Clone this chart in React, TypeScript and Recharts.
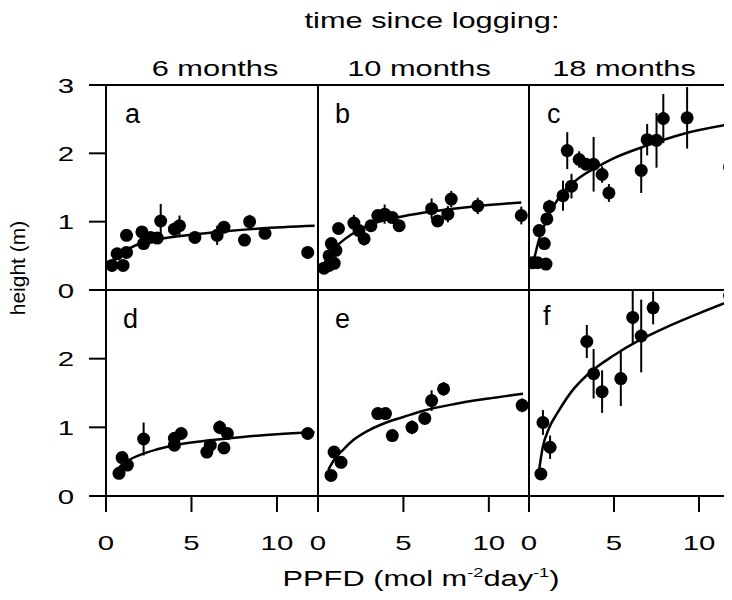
import React from "react";
import { ComposedChart, Scatter, Line, XAxis, YAxis, ErrorBar, ReferenceArea } from "recharts";

const columnTitles = ["6 months", "10 months", "18 months"];
const panelLetters = ["a", "b", "c", "d", "e", "f"];
const xTicks = [0, 5, 10];
const yTicksTop = [0, 1, 2, 3];
const yTicksBottom = [0, 1, 2];

// [PPFD, height, error]
const pointsA = [
  [0.35, 0.36, 0], [1.0, 0.36, 0], [0.65, 0.53, 0], [1.2, 0.55, 0], [1.2, 0.8, 0.05],
  [2.1, 0.85, 0.06], [2.2, 0.68, 0.06], [2.6, 0.77, 0.04], [3.0, 0.76, 0.04], [3.2, 1.01, 0.25],
  [4.0, 0.89, 0.1], [4.3, 0.94, 0.15], [5.2, 0.77, 0.03], [6.5, 0.8, 0.14], [6.9, 0.92, 0.08],
  [8.1, 0.73, 0.08], [8.4, 1.0, 0.1], [9.3, 0.83, 0.08], [11.8, 0.55, 0.08],
];
const pointsB = [
  [0.35, 0.32, 0], [0.65, 0.36, 0], [0.95, 0.39, 0], [0.65, 0.5, 0], [0.78, 0.68, 0],
  [1.05, 0.58, 0], [1.2, 0.9, 0], [2.1, 0.98, 0.12], [2.4, 0.87, 0.05], [2.7, 0.75, 0.1],
  [3.1, 0.94, 0], [3.5, 1.09, 0.06], [3.9, 1.11, 0.14], [4.35, 1.06, 0.05], [4.75, 0.94, 0.05],
  [6.65, 1.19, 0.15], [7.0, 1.01, 0.06], [7.6, 1.11, 0.12], [7.8, 1.33, 0.12], [9.35, 1.23, 0.12],
  [11.9, 1.09, 0.13],
];
const pointsC = [
  [0.2, 0.4, 0], [0.5, 0.4, 0], [1.0, 0.38, 0], [0.9, 0.68, 0], [0.6, 0.87, 0],
  [1.05, 1.04, 0.05], [1.2, 1.22, 0.1], [2.0, 1.38, 0.22], [2.5, 1.52, 0.18], [2.25, 2.04, 0.27],
  [2.95, 1.91, 0.12], [3.35, 1.84, 0.05], [3.8, 1.84, 0.4], [4.3, 1.69, 0.12], [4.7, 1.42, 0.13],
  [6.6, 1.75, 0.33], [6.95, 2.2, 0.23], [7.5, 2.19, 0.4], [7.9, 2.51, 0.36], [9.3, 2.52, 0.45],
  [11.8, 1.8, 0.3],
];
const pointsD = [
  [0.76, 0.33, 0], [0.94, 0.56, 0], [1.25, 0.45, 0], [2.2, 0.83, 0.24], [4.0, 0.84, 0.07],
  [4.4, 0.91, 0.07], [4.0, 0.74, 0.05], [5.9, 0.64, 0.07], [6.1, 0.74, 0.05], [6.65, 1.0, 0.1],
  [7.1, 0.91, 0.05], [6.9, 0.7, 0.07], [11.8, 0.91, 0.08],
];
const pointsE = [
  [0.76, 0.3, 0], [0.94, 0.64, 0.05], [1.35, 0.49, 0.05], [3.5, 1.2, 0.07], [3.95, 1.2, 0.07],
  [4.35, 0.88, 0.08], [5.5, 1.0, 0.1], [6.25, 1.13, 0.08], [6.65, 1.39, 0.15], [7.35, 1.56, 0.1],
  [11.95, 1.32, 0.1],
];
const pointsF = [
  [0.7, 0.32, 0], [0.82, 1.07, 0.18], [1.24, 0.71, 0.17], [3.4, 2.25, 0.24], [3.8, 1.78, 0.36],
  [4.3, 1.52, 0.31], [5.4, 1.71, 0.4], [6.1, 2.6, 0.4], [6.6, 2.33, 0.53], [7.3, 2.74, 0.24],
  [11.8, 2.92, 0.05],
];

// fitted curves
const fitA = [[0.4, 0.42], [1, 0.55], [2, 0.68], [3, 0.74], [5, 0.81], [7, 0.86], [9, 0.9], [12.2, 0.94]];
const fitB = [[0.4, 0.43], [1, 0.62], [2, 0.82], [3, 0.95], [5, 1.08], [7, 1.16], [9, 1.22], [11.9, 1.28]];
const fitC = [[0.3, 0.45], [0.6, 0.75], [1, 1.0], [1.5, 1.25], [2, 1.43], [3, 1.65], [4, 1.8], [5, 1.93], [7, 2.12], [9, 2.28], [11.94, 2.43]];
const fitD = [[0.7, 0.4], [1, 0.47], [2, 0.6], [3, 0.68], [4, 0.74], [6, 0.81], [8, 0.86], [10, 0.9], [12.2, 0.93]];
const fitE = [[0.6, 0.38], [1, 0.55], [1.5, 0.68], [2, 0.8], [3, 0.96], [4, 1.07], [5, 1.15], [6, 1.23], [8, 1.34], [10, 1.42], [12, 1.49]];
const fitF = [[0.55, 0.3], [0.8, 0.7], [1.2, 1.0], [1.7, 1.22], [2.5, 1.52], [3.5, 1.78], [5, 2.05], [6.5, 2.27], [8, 2.45], [10, 2.66], [11.94, 2.85]];

const toPoints = (rows: number[][]) => rows.map(([x, y, err]) => ({ x, y, err }));
const toFit = (rows: number[][]) => rows.map(([x, y]) => ({ x, y }));

const FONT = '"Liberation Sans", Arial, Helvetica, sans-serif';
const WIDE = 1.4;
const M = 14;

const XTick = (props: any) => {
  const { x, y, payload } = props;
  return (
    <text transform={`translate(${x},${y + 36}) scale(${WIDE},1)`} textAnchor="middle" fontSize={21} fontFamily={FONT} fill="#000">
      {payload.value}
    </text>
  );
};

const YTick = (props: any) => {
  const { x, y, payload } = props;
  return (
    <text transform={`translate(${x - 13},${y + 7.5}) scale(${WIDE},1)`} textAnchor="end" fontSize={21} fontFamily={FONT} fill="#000">
      {payload.value}
    </text>
  );
};

const Dot = (p: any) => <circle cx={p.cx} cy={p.cy} r={6.5} fill="#000" />;

interface PanelProps {
  left: number;
  top: number;
  w: number;
  h: number;
  xMax: number;
  points: number[][];
  fit: number[][];
  yTicks: number[];
  showX: boolean;
  showY: boolean;
}

const Panel: React.FC<PanelProps> = ({ left, top, w, h, xMax, points, fit, yTicks, showX, showY }) => {
  const yW = showY ? 60 : 0;
  const xH = showX ? 60 : 0;
  return (
    <div style={{ position: "absolute", left: left - M - yW, top: top - M }}>
      <ComposedChart width={w + 2 * M + yW} height={h + 2 * M + xH} margin={{ top: M, right: M, bottom: M, left: M }}>
        <XAxis
          type="number"
          dataKey="x"
          domain={[0, xMax]}
          allowDataOverflow
          ticks={xTicks}
          interval={0}
          hide={!showX}
          height={xH}
          tickSize={16}
          tickLine={{ stroke: "#000", strokeWidth: 2 }}
          axisLine={false}
          tick={<XTick />}
        />
        <YAxis
          type="number"
          dataKey="y"
          domain={[0, 3]}
          allowDataOverflow
          ticks={yTicks}
          interval={0}
          hide={!showY}
          width={yW}
          tickSize={17}
          tickLine={{ stroke: "#000", strokeWidth: 2 }}
          axisLine={false}
          tick={<YTick />}
        />
        <ReferenceArea x1={0} x2={xMax} y1={0} y2={3} fill="none" stroke="#000" strokeWidth={2} fillOpacity={0} ifOverflow="visible" />
        <Line data={toFit(fit)} dataKey="y" type="monotone" stroke="#000" strokeWidth={2.5} dot={false} isAnimationActive={false} />
        <Scatter data={toPoints(points)} dataKey="y" fill="#000" shape={Dot} isAnimationActive={false}>
          <ErrorBar dataKey="err" direction="y" width={0} stroke="#000" strokeWidth={2} />
        </Scatter>
      </ComposedChart>
    </div>
  );
};

const cols = [
  { x0: 106, w: 212, xMax: 12.4 },
  { x0: 318, w: 211, xMax: 12.35 },
  { x0: 529, w: 203, xMax: 11.94 },
];
const rows = [
  { y0: 85, h: 205 },
  { y0: 290, h: 206 },
];

const letterPos = [
  [125, 123], [335, 123], [547, 123],
  [123, 328], [335, 328], [543, 325],
];
const titleX = [215, 419, 624];

export default function App() {
  const panels = [
    { pts: pointsA, fit: fitA },
    { pts: pointsB, fit: fitB },
    { pts: pointsC, fit: fitC },
    { pts: pointsD, fit: fitD },
    { pts: pointsE, fit: fitE },
    { pts: pointsF, fit: fitF },
  ];
  return (
    <div style={{ position: "relative", width: 732, height: 600, overflow: "hidden", margin: -8, background: "#fff" }}>
      {panels.map((p, i) => {
        const c = cols[i % 3];
        const r = rows[Math.floor(i / 3)];
        return (
          <Panel
            key={i}
            left={c.x0}
            top={r.y0}
            w={c.w}
            h={r.h}
            xMax={c.xMax}
            points={p.pts}
            fit={p.fit}
            yTicks={i < 3 ? yTicksTop : yTicksBottom}
            showX={i >= 3}
            showY={i % 3 === 0}
          />
        );
      })}
      <svg width={732} height={600} style={{ position: "absolute", left: 0, top: 0, pointerEvents: "none" }} fontFamily={FONT}>
        <text transform={`translate(432,28) scale(${WIDE},1)`} textAnchor="middle" fontSize={22} fill="#000">
          time since logging:
        </text>
        {columnTitles.map((t, i) => (
          <text key={t} transform={`translate(${titleX[i]},76) scale(${WIDE},1)`} textAnchor="middle" fontSize={22} fill="#000">
            {t}
          </text>
        ))}
        {panelLetters.map((l, i) => (
          <text key={l} x={letterPos[i][0]} y={letterPos[i][1]} fontSize={27} fill="#000">
            {l}
          </text>
        ))}
        <text transform="translate(25,268) rotate(-90)" textAnchor="middle" fontSize={21} fill="#000">
          height (m)
        </text>
        <text transform={`translate(421,586) scale(${WIDE},1)`} textAnchor="middle" fontSize={22} fill="#000">
          PPFD (mol m
          <tspan dy={-9} fontSize={13}>-2</tspan>
          <tspan dy={9}>day</tspan>
          <tspan dy={-9} fontSize={13}>-1</tspan>
          <tspan dy={9}>)</tspan>
        </text>
      </svg>
    </div>
  );
}
